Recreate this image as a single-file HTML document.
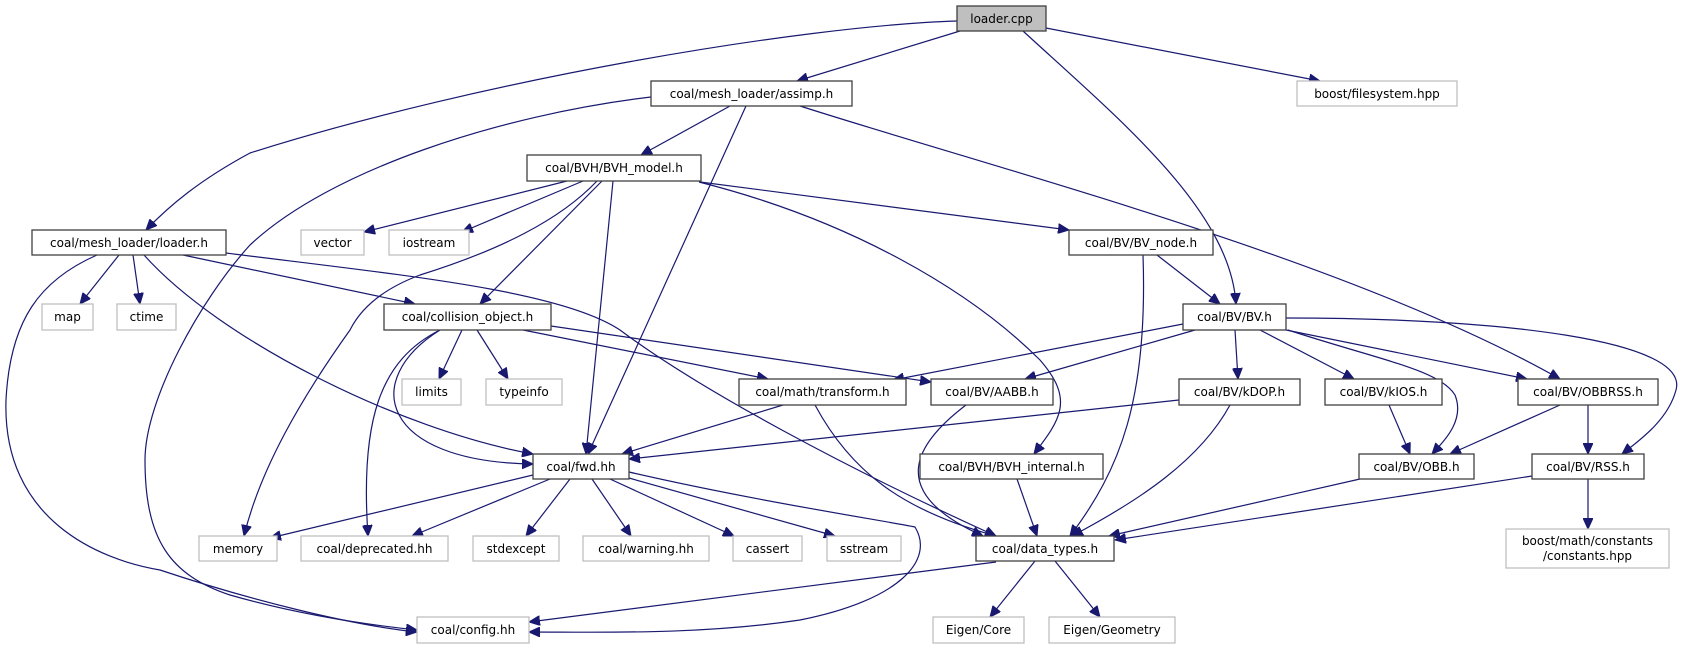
<!DOCTYPE html>
<html><head><meta charset="utf-8"><style>
html,body{margin:0;padding:0;background:#fff;}
svg{display:block;}
text{font-family:"DejaVu Sans","Liberation Sans",sans-serif;font-size:12px;fill:#000;}
.e{fill:none;stroke:#191970;stroke-width:1.2;marker-end:url(#ah);}
.n{fill:#fff;stroke:#404040;stroke-width:1.3;}
.g{fill:#fff;stroke:#bfbfbf;stroke-width:1.3;}
</style></head><body>
<svg width="1683" height="649" viewBox="0 0 1683 649" xmlns="http://www.w3.org/2000/svg">
<defs><marker id="ah" markerUnits="userSpaceOnUse" markerWidth="12" markerHeight="10" refX="11" refY="5" orient="auto"><path d="M0,0 L11,5 L0,10 z" fill="#191970" stroke="#191970"/></marker></defs>
<g>
<path class="e" d="M960,31 L797,81"/>
<path class="e" d="M957,21 C800,26 480,80 250,153 C200,180 170,205 146,230"/>
<path class="e" d="M1023,31 C1120,120 1230,210 1236,304"/>
<path class="e" d="M1046,28 L1320,81"/>
<path class="e" d="M730,106 L641,155"/>
<path class="e" d="M746,106 L588,454"/>
<path class="e" d="M651,97 C500,115 330,170 250,245 C200,300 145,400 145,460 C145,540 170,575 230,595 C300,615 370,625 417,630"/>
<path class="e" d="M800,106 C1000,170 1350,260 1560,379"/>
<path class="e" d="M567,181 L364,232"/>
<path class="e" d="M583,181 L462,232"/>
<path class="e" d="M597,181 C560,220 500,250 420,275 C380,290 360,310 350,330 C300,400 260,470 244,536"/>
<path class="e" d="M602,181 L480,304"/>
<path class="e" d="M613,181 L586,454"/>
<path class="e" d="M700,182 L1069,230"/>
<path class="e" d="M699,182 C850,220 970,290 1040,360 C1075,400 1060,420 1034,454"/>
<path class="e" d="M119,255 L80,304"/>
<path class="e" d="M133,255 L140,304"/>
<path class="e" d="M183,255 L415,304"/>
<path class="e" d="M144,255 C220,340 400,430 533,454"/>
<path class="e" d="M226,253 C400,275 560,290 620,330 C700,390 850,470 996,536"/>
<path class="e" d="M97,255 C40,280 10,320 6,400 C2,520 100,560 160,570 C250,600 350,625 417,632"/>
<path class="e" d="M1157,255 L1220,304"/>
<path class="e" d="M1143,255 C1148,400 1120,470 1070,536"/>
<path class="e" d="M462,330 L439,379"/>
<path class="e" d="M477,330 L508,379"/>
<path class="e" d="M440,330 C380,360 360,420 368,536"/>
<path class="e" d="M440,330 C360,380 380,462 533,464"/>
<path class="e" d="M523,330 L768,379"/>
<path class="e" d="M551,326 L931,382"/>
<path class="e" d="M1183,324 L893,380"/>
<path class="e" d="M1195,330 L1025,379"/>
<path class="e" d="M1235,330 L1238,379"/>
<path class="e" d="M1260,330 L1354,379"/>
<path class="e" d="M1288,330 C1380,360 1440,370 1455,395 C1465,420 1445,440 1432,454"/>
<path class="e" d="M1286,330 L1527,379"/>
<path class="e" d="M1286,318 C1500,318 1690,340 1676,390 C1668,420 1640,440 1622,454"/>
<path class="e" d="M783,405 L622,454"/>
<path class="e" d="M815,405 C850,470 900,510 996,536"/>
<path class="e" d="M966,405 C920,440 880,490 983,536"/>
<path class="e" d="M1179,400 L629,459"/>
<path class="e" d="M1230,405 C1200,460 1140,500 1072,536"/>
<path class="e" d="M1389,405 L1410,454"/>
<path class="e" d="M1560,405 L1450,454"/>
<path class="e" d="M1588,405 L1588,454"/>
<path class="e" d="M1017,479 L1037,536"/>
<path class="e" d="M1360,479 L1109,536"/>
<path class="e" d="M1532,476 L1115,540"/>
<path class="e" d="M1588,479 L1588,529"/>
<path class="e" d="M533,475 L270,538"/>
<path class="e" d="M550,479 L412,536"/>
<path class="e" d="M570,479 L526,536"/>
<path class="e" d="M592,479 L631,536"/>
<path class="e" d="M610,479 L734,536"/>
<path class="e" d="M629,478 L835,536"/>
<path class="e" d="M629,472 C750,500 880,520 915,527 C935,560 900,600 800,620 C700,635 600,632 529,632"/>
<path class="e" d="M996,562 L529,622"/>
<path class="e" d="M1035,561 L990,617"/>
<path class="e" d="M1055,561 L1100,617"/>
</g>
<g>
<rect x="957" y="6" width="89" height="25" fill="#bfbfbf" stroke="#404040" stroke-width="1.3"/><text x="1001.5" y="23" text-anchor="middle">loader.cpp</text>
<rect class="n" x="651" y="81" width="201" height="25"/><text x="751.5" y="98" text-anchor="middle">coal/mesh_loader/assimp.h</text>
<rect class="g" x="1297" y="81" width="160" height="25"/><text x="1377" y="98" text-anchor="middle">boost/filesystem.hpp</text>
<rect class="n" x="527" y="155" width="174" height="26"/><text x="614" y="172" text-anchor="middle">coal/BVH/BVH_model.h</text>
<rect class="n" x="32" y="230" width="194" height="25"/><text x="129" y="247" text-anchor="middle">coal/mesh_loader/loader.h</text>
<rect class="g" x="301" y="230" width="63" height="25"/><text x="332.5" y="247" text-anchor="middle">vector</text>
<rect class="g" x="389" y="230" width="80" height="25"/><text x="429" y="247" text-anchor="middle">iostream</text>
<rect class="n" x="1069" y="230" width="144" height="25"/><text x="1141" y="247" text-anchor="middle">coal/BV/BV_node.h</text>
<rect class="g" x="42" y="304" width="51" height="26"/><text x="67.5" y="321" text-anchor="middle">map</text>
<rect class="g" x="117" y="304" width="59" height="26"/><text x="146.5" y="321" text-anchor="middle">ctime</text>
<rect class="n" x="384" y="304" width="167" height="26"/><text x="467.5" y="321" text-anchor="middle">coal/collision_object.h</text>
<rect class="n" x="1183" y="304" width="103" height="26"/><text x="1234.5" y="321" text-anchor="middle">coal/BV/BV.h</text>
<rect class="g" x="402" y="379" width="59" height="26"/><text x="431.5" y="396" text-anchor="middle">limits</text>
<rect class="g" x="486" y="379" width="76" height="26"/><text x="524" y="396" text-anchor="middle">typeinfo</text>
<rect class="n" x="739" y="379" width="167" height="26"/><text x="822.5" y="396" text-anchor="middle">coal/math/transform.h</text>
<rect class="n" x="931" y="379" width="122" height="26"/><text x="992" y="396" text-anchor="middle">coal/BV/AABB.h</text>
<rect class="n" x="1179" y="379" width="121" height="26"/><text x="1239.5" y="396" text-anchor="middle">coal/BV/kDOP.h</text>
<rect class="n" x="1325" y="379" width="117" height="26"/><text x="1383.5" y="396" text-anchor="middle">coal/BV/kIOS.h</text>
<rect class="n" x="1518" y="379" width="140" height="26"/><text x="1588" y="396" text-anchor="middle">coal/BV/OBBRSS.h</text>
<rect class="n" x="533" y="454" width="96" height="25"/><text x="581" y="471" text-anchor="middle">coal/fwd.hh</text>
<rect class="n" x="920" y="454" width="183" height="25"/><text x="1011.5" y="471" text-anchor="middle">coal/BVH/BVH_internal.h</text>
<rect class="n" x="1359" y="454" width="115" height="25"/><text x="1416.5" y="471" text-anchor="middle">coal/BV/OBB.h</text>
<rect class="n" x="1532" y="454" width="112" height="25"/><text x="1588" y="471" text-anchor="middle">coal/BV/RSS.h</text>
<rect class="g" x="199" y="536" width="78" height="25"/><text x="238" y="553" text-anchor="middle">memory</text>
<rect class="g" x="301" y="536" width="147" height="25"/><text x="374.5" y="553" text-anchor="middle">coal/deprecated.hh</text>
<rect class="g" x="473" y="536" width="86" height="25"/><text x="516" y="553" text-anchor="middle">stdexcept</text>
<rect class="g" x="583" y="536" width="126" height="25"/><text x="646" y="553" text-anchor="middle">coal/warning.hh</text>
<rect class="g" x="733" y="536" width="69" height="25"/><text x="767.5" y="553" text-anchor="middle">cassert</text>
<rect class="g" x="827" y="536" width="74" height="25"/><text x="864" y="553" text-anchor="middle">sstream</text>
<rect class="n" x="976" y="536" width="138" height="25"/><text x="1045" y="553" text-anchor="middle">coal/data_types.h</text>
<rect class="g" x="1506" y="529" width="163" height="39"/><text x="1587.5" y="545" text-anchor="middle">boost/math/constants</text><text x="1587.5" y="560" text-anchor="middle">/constants.hpp</text>
<rect class="g" x="417" y="617" width="112" height="26"/><text x="473" y="634" text-anchor="middle">coal/config.hh</text>
<rect class="g" x="933" y="617" width="91" height="26"/><text x="978.5" y="634" text-anchor="middle">Eigen/Core</text>
<rect class="g" x="1049" y="617" width="126" height="26"/><text x="1112" y="634" text-anchor="middle">Eigen/Geometry</text>
</g>
</svg>
</body></html>
